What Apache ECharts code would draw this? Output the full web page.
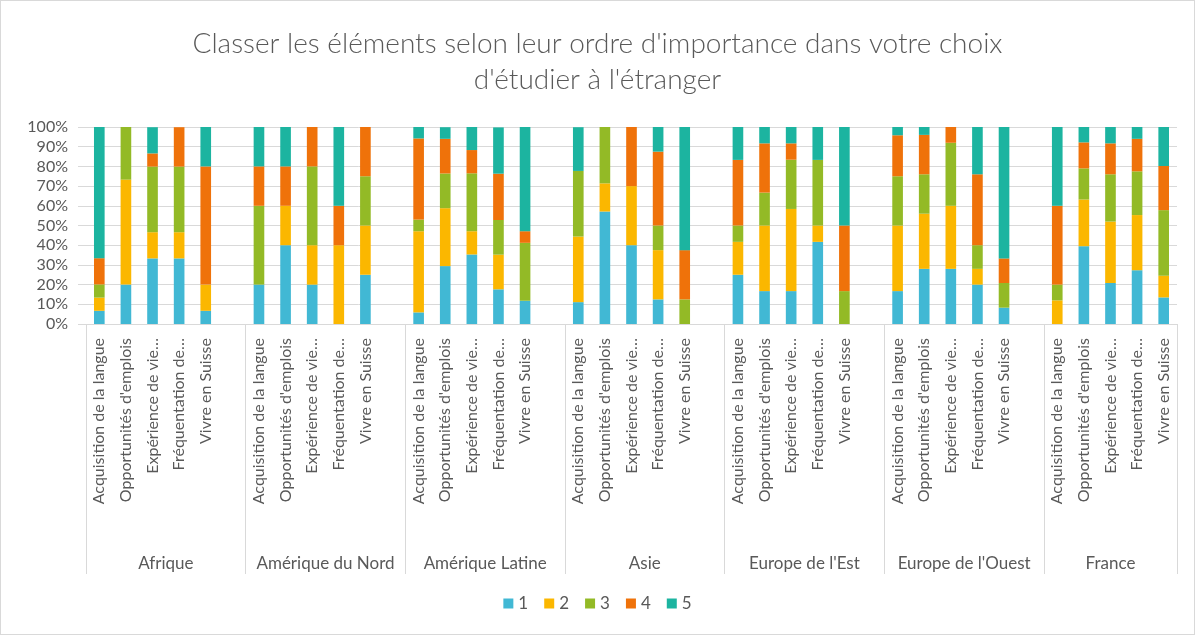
<!DOCTYPE html>
<html>
<head>
<meta charset="utf-8">
<script src="https://cdn.jsdelivr.net/npm/echarts@6/dist/echarts.min.js"></script>
<style>
  html, body { margin: 0; padding: 0; background: #fff; }
  #chart { width: 1195px; height: 635px; box-sizing: border-box; border: 1px solid #d9d9d9; }
</style>
</head>
<body>
<div id="chart"></div>
<script>
const regions = ['Afrique', 'Amérique du Nord', 'Amérique Latine', 'Asie', "Europe de l'Est", "Europe de l'Ouest", 'France'];
const items = ['Acquisition de la langue', "Opportunités d'emplois", 'Expérience de vie…', 'Fréquentation de…', 'Vivre en Suisse'];
const ranks = ['1', '2', '3', '4', '5'];
const colors = ['#41b8d4', '#fbb700', '#93ba26', '#ef720a', '#1cb4a0'];

// % par rang, 5 éléments par région (dans l'ordre des régions)
const rank1 = [6.7, 20, 33.3, 33.3, 6.7,  20, 40, 20, 0, 25,  5.9, 29.4, 35.3, 17.6, 11.8,  11.1, 57.1, 40, 12.5, 0,  25, 16.7, 16.7, 41.7, 0,  16.7, 28, 28, 20, 8.3,  0, 39.5, 20.8, 27.3, 13.5];
const rank2 = [6.7, 53.3, 13.3, 13.3, 13.3,  0, 20, 20, 40, 25,  41.2, 29.4, 11.8, 17.6, 0,  33.3, 14.3, 30, 25, 0,  16.7, 33.3, 41.7, 8.3, 0,  33.3, 28, 32, 8, 0,  12, 23.7, 31.2, 28, 11];
const rank3 = [6.7, 26.7, 33.3, 33.3, 0,  40, 0, 40, 0, 25,  5.9, 17.6, 29.4, 17.6, 29.4,  33.3, 28.6, 0, 12.5, 12.5,  8.3, 16.7, 25, 33.3, 16.7,  25, 20, 32, 12, 12.5,  8, 15.8, 24, 22.2, 33.3];
const rank4 = [13.3, 0, 6.7, 20, 60,  20, 20, 20, 20, 25,  41.2, 17.6, 11.8, 23.5, 5.9,  0, 0, 30, 37.5, 25,  33.3, 25, 8.3, 0, 33.3,  20.8, 20, 8, 36, 12.5,  40, 13.2, 15.7, 16.5, 22.4];
const rank5 = [66.7, 0, 13.3, 0, 20,  20, 20, 0, 40, 0,  5.9, 5.9, 11.8, 23.5, 52.9,  22.2, 0, 0, 12.5, 62.5,  16.7, 8.3, 8.3, 16.7, 50,  4.2, 4, 0, 24, 66.7,  40, 7.9, 8.3, 6, 19.8];

// une case vide après chaque région sauf la dernière
const slotLabels = [];
const slotIndex = [];
regions.forEach((r, g) => {
  items.forEach((it) => {
    slotIndex.push(slotLabels.length);
    slotLabels.push(it);
  });
  if (g < regions.length - 1) slotLabels.push('');
});
const nSlots = slotLabels.length;

function expand(vals) {
  const out = new Array(nSlots).fill('-');
  vals.forEach((v, i) => { out[slotIndex[i]] = v; });
  return out;
}

// position du libellé de région sur l'axe de valeurs 0..nSlots
const groupCenters = {};
regions.forEach((r, g) => {
  const start = g * 6;
  const end = g < regions.length - 1 ? start + 6 : nSlots;
  groupCenters[(start + end) / 2] = r;
});

const font = 'Lato, "Open Sans", sans-serif';
const textColor = '#595959';
const lineColor = '#d9d9d9';

const chart = echarts.init(document.getElementById('chart'));
chart.setOption({
  animation: false,
  textStyle: { fontFamily: font },
  color: colors,
  title: {
    text: "Classer les éléments selon leur ordre d'importance dans votre choix\nd'étudier à l'étranger",
    left: 'center',
    top: 20,
    textStyle: { fontFamily: font, fontSize: 28, fontWeight: 300, color: textColor, lineHeight: 36 }
  },
  legend: {
    bottom: 17,
    left: 'center',
    itemWidth: 10,
    itemHeight: 10,
    itemGap: 16,
    icon: 'rect',
    textStyle: { fontFamily: font, fontSize: 17, color: textColor },
    data: ranks
  },
  grid: { left: 85, right: 17, top: 126, bottom: 310, containLabel: false },
  xAxis: [{
    type: 'category',
    data: slotLabels,
    axisLine: { lineStyle: { color: lineColor } },
    axisTick: {
      show: true,
      length: 250,
      interval: (idx) => idx % 6 === 0,
      lineStyle: { color: lineColor }
    },
    axisLabel: { rotate: 90, interval: 0, margin: 14, fontSize: 16, color: textColor, fontFamily: font }
  }, {
    type: 'value',
    min: 0,
    max: nSlots,
    interval: 0.5,
    position: 'bottom',
    offset: 223,
    axisLine: { show: false },
    axisTick: { show: false },
    splitLine: { show: false },
    axisLabel: {
      fontSize: 17, color: textColor, fontFamily: font, hideOverlap: false,
      formatter: (v) => groupCenters[v] || ''
    }
  }],
  yAxis: {
    type: 'value',
    min: 0,
    max: 100,
    interval: 10,
    axisLine: { show: false },
    axisTick: { show: true, length: 8, lineStyle: { color: lineColor } },
    splitLine: { lineStyle: { color: lineColor, width: 1 } },
    axisLabel: { formatter: '{value}%', margin: 18, fontSize: 16, color: textColor, fontFamily: font }
  },
  series: [rank1, rank2, rank3, rank4, rank5].map((vals, i) => ({
    name: ranks[i],
    type: 'bar',
    stack: 'total',
    barWidth: '40%',
    xAxisIndex: 0,
    data: expand(vals)
  }))
});
</script>
</body>
</html>
